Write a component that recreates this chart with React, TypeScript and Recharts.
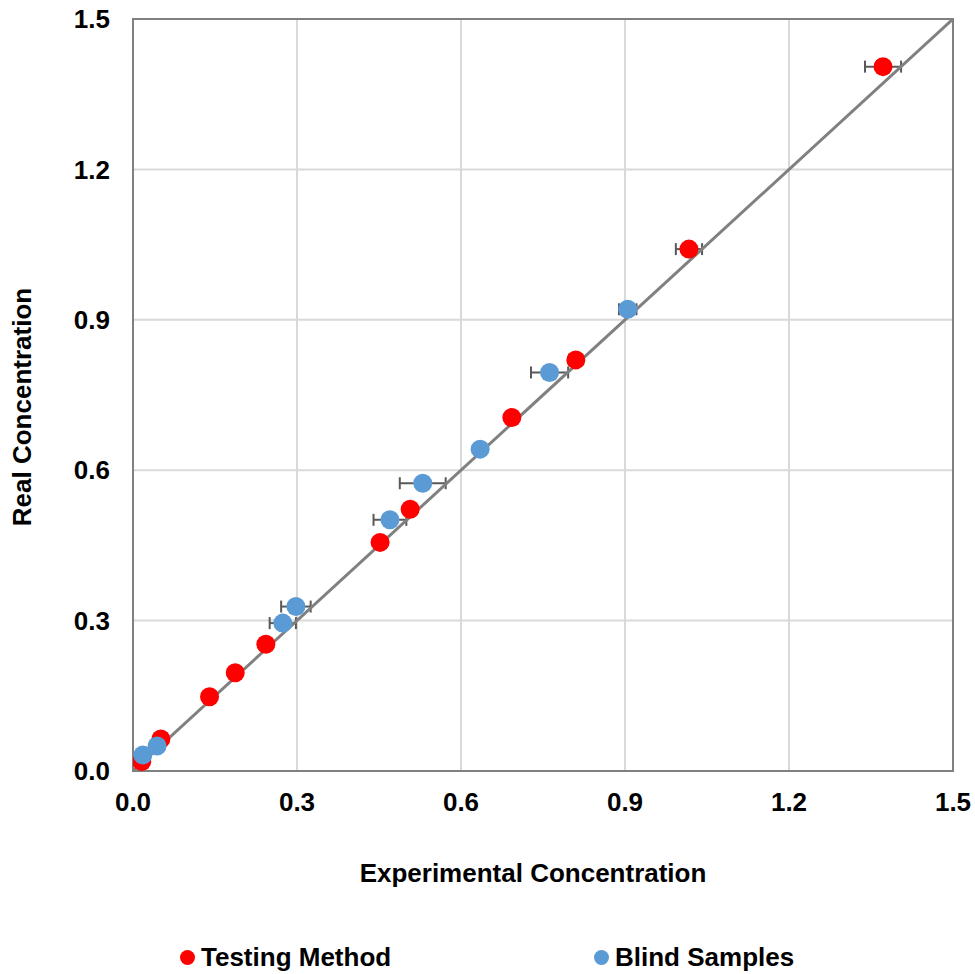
import React from "react";
import {
  ScatterChart,
  Scatter,
  XAxis,
  YAxis,
  CartesianGrid,
  ErrorBar,
  ReferenceArea,
} from "recharts";

// Axis ticks
const axisTicks = [0, 0.3, 0.6, 0.9, 1.2, 1.5];

// Testing Method: experimental (x), real (y), x-error
const testingX = [0.016, 0.051, 0.14, 0.187, 0.243, 0.452, 0.507, 0.693, 0.81, 1.017, 1.372];
const testingY = [0.019, 0.064, 0.148, 0.196, 0.253, 0.456, 0.522, 0.705, 0.82, 1.041, 1.405];
const testingErr = [0.005, 0.005, 0.005, 0.005, 0.005, 0.008, 0.008, 0.01, 0.012, 0.024, 0.033];

// Blind Samples: experimental (x), real (y), x-error
const blindX = [0.018, 0.044, 0.274, 0.298, 0.47, 0.53, 0.635, 0.762, 0.905];
const blindY = [0.032, 0.05, 0.295, 0.328, 0.501, 0.574, 0.642, 0.795, 0.921];
const blindErr = [0.005, 0.005, 0.024, 0.027, 0.03, 0.042, 0.01, 0.034, 0.016];

// Line of identity
const identityX = [0, 1.5];

const testingData = testingX.map((x, i) => ({ x, y: testingY[i], ex: testingErr[i] }));
const blindData = blindX.map((x, i) => ({ x, y: blindY[i], ex: blindErr[i] }));
const identityData = identityX.map((v) => ({ x: v, y: v }));

const FONT = "'Liberation Sans', Arial, Helvetica, sans-serif";
const RED = "#ff0000";
const BLUE = "#5b9bd5";
const AXIS_GRAY = "#808080";

const fmt = (v: number) => v.toFixed(1);

const dot = (color: string) => (props: any) => (
  <circle cx={props.cx} cy={props.cy} r={9.5} fill={color} />
);

const XTitle = (props: any) => {
  const vb = props.viewBox || {};
  return (
    <text
      x={vb.x + vb.width / 2 - 10}
      y={vb.y + 111}
      textAnchor="middle"
      fontFamily={FONT}
      fontWeight="bold"
      fontSize={26}
      fill="#000"
    >
      Experimental Concentration
    </text>
  );
};

const YTitle = (props: any) => {
  const vb = props.viewBox || {};
  const cx = vb.x + 22;
  const cy = vb.y + vb.height / 2 + 12;
  return (
    <text
      x={cx}
      y={cy}
      transform={`rotate(-90, ${cx}, ${cy})`}
      textAnchor="middle"
      dominantBaseline="central"
      fontFamily={FONT}
      fontWeight="bold"
      fontSize={26}
      fill="#000"
    >
      Real Concentration
    </text>
  );
};

const legendItems = [
  { name: "Testing Method", color: RED, left: 180 },
  { name: "Blind Samples", color: BLUE, left: 594 },
];

export default function App() {
  return (
    <div style={{ position: "absolute", left: 0, top: 0, width: 975, height: 974, background: "#fff" }}>
      <ScatterChart
        width={975}
        height={974}
        margin={{ top: 19, right: 22, left: 0, bottom: 0 }}
        style={{ fontFamily: FONT }}
      >
        <CartesianGrid stroke="#d9d9d9" strokeWidth={2} />
        <XAxis
          type="number"
          dataKey="x"
          domain={[0, 1.5]}
          ticks={axisTicks}
          tickFormatter={fmt}
          height={203}
          tickLine={false}
          tickSize={0}
          tickMargin={22}
          axisLine={{ stroke: AXIS_GRAY, strokeWidth: 2 }}
          tick={{ fill: "#000", fontSize: 26, fontWeight: "bold", fontFamily: FONT }}
          allowDataOverflow
          label={<XTitle />}
        />
        <YAxis
          type="number"
          dataKey="y"
          domain={[0, 1.5]}
          ticks={axisTicks}
          tickFormatter={fmt}
          width={133}
          tickLine={false}
          tickSize={0}
          tickMargin={23}
          axisLine={{ stroke: AXIS_GRAY, strokeWidth: 2 }}
          tick={{ fill: "#000", fontSize: 26, fontWeight: "bold", fontFamily: FONT }}
          allowDataOverflow
          label={<YTitle />}
        />
        <ReferenceArea
          x1={0}
          x2={1.5}
          y1={0}
          y2={1.5}
          fill="none"
          fillOpacity={0}
          stroke={AXIS_GRAY}
          strokeWidth={2}
        />
        <Scatter
          name="identity"
          data={identityData}
          line={{ stroke: AXIS_GRAY, strokeWidth: 3 }}
          shape={() => <g />}
          legendType="none"
          isAnimationActive={false}
        />
        <Scatter name="Testing Method" data={testingData} fill={RED} shape={dot(RED)} isAnimationActive={false}>
          <ErrorBar dataKey="ex" direction="x" width={6} stroke="#595959" strokeWidth={2} isAnimationActive={false} />
        </Scatter>
        <Scatter name="Blind Samples" data={blindData} fill={BLUE} shape={dot(BLUE)} isAnimationActive={false}>
          <ErrorBar dataKey="ex" direction="x" width={6} stroke="#595959" strokeWidth={2} isAnimationActive={false} />
        </Scatter>
      </ScatterChart>
      {legendItems.map((item) => (
        <div
          key={item.name}
          style={{
            position: "absolute",
            left: item.left,
            top: 941,
            height: 32,
            display: "flex",
            alignItems: "center",
            fontFamily: FONT,
            fontWeight: "bold",
            fontSize: 26,
            color: "#000",
            whiteSpace: "nowrap",
          }}
        >
          <span
            style={{
              display: "inline-block",
              width: 15,
              height: 15,
              borderRadius: "50%",
              background: item.color,
              marginRight: 6,
            }}
          />
          {item.name}
        </div>
      ))}
    </div>
  );
}
